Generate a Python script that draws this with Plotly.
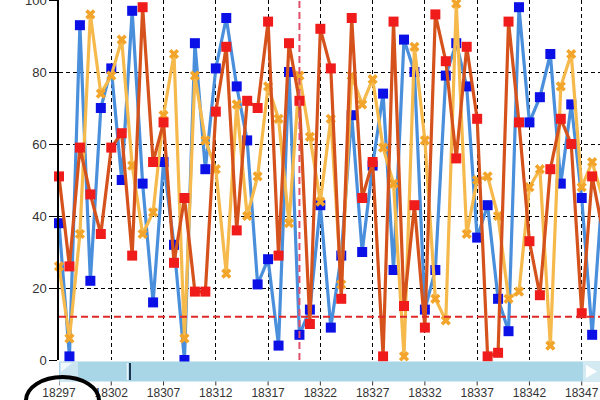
import plotly.graph_objects as go

days = list(range(18297, 18350))
blue_vals = [38, 1, 93, 22, 70, 81, 50, 97, 49, 16, 55, 32, 0, 88, 53, 81, 95, 76, 61, 21,
             28, 4, 80, 7, 14, 43, 9, 29, 68, 30, 54, 74, 25, 89, 80, 14, 25, 79, 88, 76,
             34, 43, 17, 8, 98, 66, 73, 85, 49, 71, 45, 7, 48]
red_vals = [51, 26, 59, 46, 35, 59, 63, 29, 98, 55, 66, 27, 45, 19, 19, 69, 87, 36, 72, 70,
            94, 29, 88, 72, 10, 92, 81, 17, 95, 45, 55, 1, 94, 15, 43, 9, 96, 83, 56, 87,
            67, 1, 2, 94, 66, 33, 18, 53, 67, 60, 13, 51, 36]
yellow_vals = [26, 6, 35, 96, 74, 79, 89, 54, 35, 41, 68, 85, 6, 79, 61, 53, 24, 71, 40, 51,
               76, 67, 38, 79, 62, 44, 67, 21, 79, 71, 78, 59, 49, 1, 87, 61, 17, 11, 99, 35,
               50, 51, 40, 17, 19, 48, 53, 4, 76, 85, 48, 55, 45]
x_ticks = [18297, 18302, 18307, 18312, 18317, 18322, 18327, 18332, 18337, 18342, 18347]
y_ticks = [0, 20, 40, 60, 80, 100]
marker_day = 18320
threshold = 12

W, H = 600, 400
ML, MR, MT, MB = 59, 0, 0, 40
PW, PH = W - ML - MR, H - MT - MB


def px(x):
    return (x - ML) / PW


def py(y):
    return (H - MB - y) / PH


fig = go.Figure()
fig.add_trace(go.Scatter(x=days, y=blue_vals, mode="lines+markers", cliponaxis=False,
                         line=dict(color="#4a8fdc", width=3.2),
                         marker=dict(symbol="square", size=10, color="#0a10e6")))
fig.add_trace(go.Scatter(x=days, y=yellow_vals, mode="lines+markers", cliponaxis=False,
                         line=dict(color="#f5b94c", width=3.2),
                         marker=dict(symbol="x", size=9, color="#f2a52a")))
fig.add_trace(go.Scatter(x=days, y=red_vals, mode="lines+markers", cliponaxis=False,
                         line=dict(color="#d5521c", width=3.2),
                         marker=dict(symbol="square", size=10, color="#f01c1c")))

shapes = [
    dict(type="line", xref="x", yref="paper", x0=marker_day, x1=marker_day, y0=0, y1=1,
         line=dict(color="#e0506a", width=2, dash="7px,4px"), layer="above"),
    dict(type="line", xref="paper", yref="y", x0=0, x1=1, y0=threshold, y1=threshold,
         line=dict(color="#e02a2a", width=2, dash="7px,4px"), layer="above"),
    # scrollbar
    dict(type="rect", xref="paper", yref="paper", x0=px(59), x1=px(600), y0=py(361.5), y1=py(381.5),
         fillcolor="#a9d6e6", line=dict(width=0), layer="above"),
    dict(type="rect", xref="paper", yref="paper", x0=px(60), x1=px(78), y0=py(362), y1=py(381),
         fillcolor="#cbe6f0", line=dict(width=0), layer="above"),
    dict(type="path", xref="paper", yref="paper",
         path="M %f,%f L %f,%f L %f,%f Z" % (px(61), py(363), px(72), py(363), px(61), py(372)),
         fillcolor="#f2f9fc", line=dict(width=0), layer="above"),
    dict(type="line", xref="paper", yref="paper", x0=px(127.5), x1=px(127.5), y0=py(363), y1=py(380),
         line=dict(color="#e8f4f9", width=1.5), layer="above"),
    dict(type="line", xref="paper", yref="paper", x0=px(130), x1=px(130), y0=py(363), y1=py(380),
         line=dict(color="#1d3550", width=2), layer="above"),
    dict(type="rect", xref="paper", yref="paper", x0=px(583), x1=px(600), y0=py(362), y1=py(381),
         fillcolor="#d3eaf3", line=dict(width=0), layer="above"),
    dict(type="path", xref="paper", yref="paper",
         path="M %f,%f L %f,%f L %f,%f Z" % (px(586), py(365), px(597), py(371.5), px(586), py(378)),
         fillcolor="#ffffff", line=dict(width=0), layer="above"),
    # annotation ellipse
    dict(type="circle", xref="paper", yref="paper", x0=px(26), x1=px(99), y0=py(377), y1=py(424),
         line=dict(color="#000000", width=4), layer="above"),
]
# small visible tick marks below the scrollbar
for t in x_ticks:
    shapes.append(dict(type="line", xref="x", yref="paper", x0=t, x1=t, y0=py(381.5), y1=py(385.5),
                       line=dict(color="#333333", width=1), layer="above"))

fig.update_layout(
    width=W, height=H,
    margin=dict(l=ML, r=MR, t=MT, b=MB, autoexpand=False),
    paper_bgcolor="white", plot_bgcolor="white",
    showlegend=False,
    shapes=shapes,
    font=dict(family="Liberation Sans, Arial, sans-serif", color="#333333"),
    xaxis=dict(range=[18297, 18348.75], tickvals=x_ticks, ticktext=[str(t) for t in x_ticks],
               automargin=False,
               showgrid=True, gridcolor="#000000", gridwidth=1, griddash="4px,3px",
               zeroline=False, showline=False, ticks="outside", ticklen=22,
               tickcolor="rgba(0,0,0,0)", ticklabeloverflow="allow",
               tickwidth=1, tickfont=dict(size=12, color="#333333")),
    yaxis=dict(range=[0, 100], tickvals=y_ticks, ticklabeloverflow="allow",
               automargin=False,
               showgrid=True, gridcolor="#000000", gridwidth=1, griddash="4px,3px",
               zeroline=False, showline=True, linecolor="#000000", linewidth=1.5,
               ticks="outside", ticklen=8, tickcolor="#000000",
               tickfont=dict(size=13, color="#333333")),
)

fig.write_html("out.html", config={"displayModeBar": False},
               post_script="document.body.style.margin='0';document.body.style.overflow='hidden';")
